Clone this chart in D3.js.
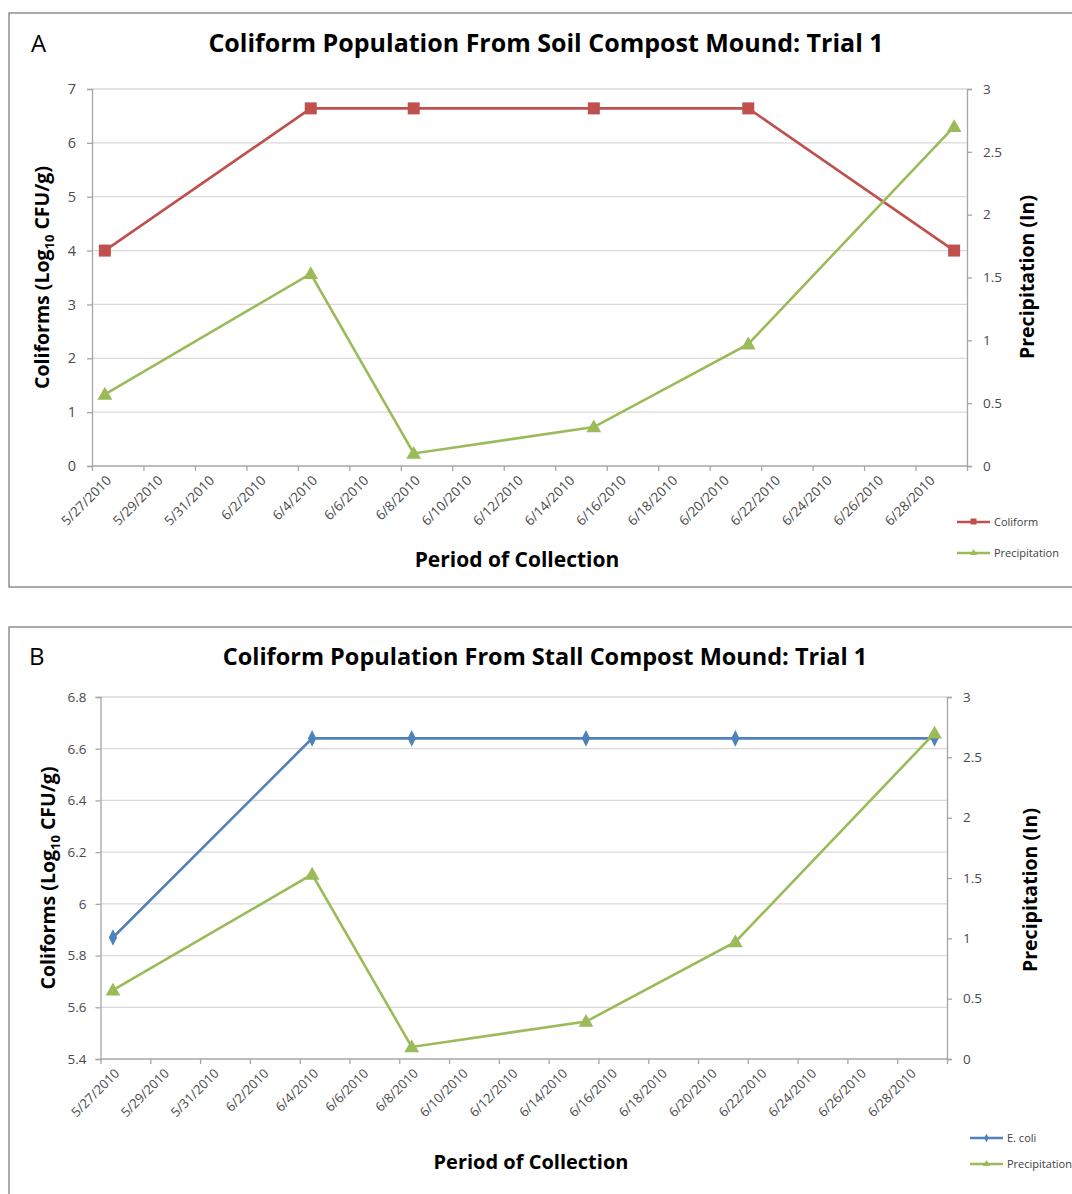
<!DOCTYPE html>
<html>
<head>
<meta charset="utf-8">
<script src="https://cdn.jsdelivr.net/npm/d3@7"></script>
<style>
  html, body { margin: 0; padding: 0; background: #fff; }
  svg { display: block; font-family: "Open Sans", Lato, "Liberation Sans", sans-serif; }
</style>
</head>
<body>
<svg id="chart" width="1072" height="1194"></svg>
<script>
// Collection dates (shared by both mounds)
const collectionDates = ["2010-05-27", "2010-06-04", "2010-06-08", "2010-06-15", "2010-06-21", "2010-06-29"];
// Soil compost mound coliforms (log10 CFU/g)
const soilColiform = [4.0, 6.64, 6.64, 6.64, 6.64, 4.0];
// Stall compost mound E. coli (log10 CFU/g)
const stallEcoli = [5.87, 6.64, 6.64, 6.64, 6.64, 6.64];
// Precipitation (inches)
const precipitation = [0.57, 1.53, 0.10, 0.31, 0.97, 2.70];
// Axis ticks
const soilLeftTicks = [0, 1, 2, 3, 4, 5, 6, 7];
const stallLeftTicks = [5.4, 5.6, 5.8, 6.0, 6.2, 6.4, 6.6, 6.8];
const precipTicks = [0, 0.5, 1, 1.5, 2, 2.5, 3];
const dateTicks = ["2010-05-27", "2010-05-29", "2010-05-31", "2010-06-02", "2010-06-04", "2010-06-06",
  "2010-06-08", "2010-06-10", "2010-06-12", "2010-06-14", "2010-06-16", "2010-06-18", "2010-06-20",
  "2010-06-22", "2010-06-24", "2010-06-26", "2010-06-28"];
const axisStart = "2010-05-27";
const axisEnd = "2010-06-30";

const svg = d3.select("#chart");
const parse = d3.utcParse("%Y-%m-%d");
const fmtDate = d3.utcFormat("%-m/%-d/%Y");
const DAY = 864e5;

const RED = "#C0504D", GREEN = "#9BBB59", BLUE = "#4F81BD";
const GRID = "#D9D9D9", AXIS = "#A6A6A6", TICKTXT = "#4A4A4A";

function panel(cfg) {
  const g = svg.append("g");
  // frame
  g.append("rect").attr("x", cfg.frame[0]).attr("y", cfg.frame[1])
    .attr("width", cfg.frame[2]).attr("height", cfg.frame[3])
    .attr("fill", "none").attr("stroke", "#7F7F7F").attr("stroke-width", 1.3);

  g.append("text").attr("x", cfg.letterX).attr("y", cfg.titleY)
    .attr("font-size", 24).attr("fill", "#000").text(cfg.letter);
  g.append("text").attr("x", cfg.titleX).attr("y", cfg.titleY)
    .attr("text-anchor", "middle").attr("font-size", cfg.titleSize).attr("font-weight", "bold")
    .attr("fill", "#000").text(cfg.title);

  const p = cfg.plot;
  const x = d3.scaleUtc().domain([parse(axisStart), parse(axisEnd)]).range([p.left, p.right]);
  const yL = d3.scaleLinear().domain(cfg.leftDomain).range([p.bottom, p.top]);
  const yR = d3.scaleLinear().domain([0, 3]).range([p.bottom, p.top]);

  // horizontal gridlines
  g.append("g").selectAll("line").data(cfg.leftTicks.slice(1)).join("line")
    .attr("x1", p.left).attr("x2", p.right)
    .attr("y1", d => yL(d)).attr("y2", d => yL(d))
    .attr("stroke", GRID).attr("stroke-width", 1.3);

  // left axis
  const gl = g.append("g").attr("transform", `translate(${p.left},0)`)
    .call(d3.axisLeft(yL).tickValues(cfg.leftTicks).tickSize(5).tickPadding(cfg.leftPad)
      .tickFormat(cfg.leftFormat));
  // right axis
  const gr = g.append("g").attr("transform", `translate(${p.right},0)`)
    .call(d3.axisRight(yR).tickValues(precipTicks).tickSize(5).tickPadding(11)
      .tickFormat(d => d3.format("")(d)));
  // bottom axis: tick marks at day boundaries, every two days
  const tickDates = dateTicks.map(parse);
  const gb = g.append("g").attr("transform", `translate(0,${p.bottom})`)
    .call(d3.axisBottom(x).tickValues(tickDates.concat([parse(axisEnd)])).tickSize(5).tickFormat(""));
  [gl, gr, gb].forEach(a => {
    a.select(".domain").attr("stroke", AXIS).attr("stroke-width", 1.3);
    a.selectAll(".tick line").attr("stroke", AXIS).attr("stroke-width", 1.3);
    a.selectAll(".tick text").attr("fill", TICKTXT).attr("font-size", 13.5)
      .attr("font-family", "'Open Sans', Lato, sans-serif");
  });
  gl.selectAll(".tick text").attr("font-size", cfg.leftFont);
  gb.select(".domain").attr("d", `M${p.left},0H${p.right}`);

  // date labels, centred on their day slot
  g.append("g").selectAll("text").data(tickDates).join("text")
    .attr("transform", d => `translate(${x(new Date(+d + DAY / 2)) + 4},${p.bottom + 12}) rotate(-45)`)
    .attr("text-anchor", "end").attr("dy", "0.35em")
    .attr("font-size", cfg.dateFont).attr("fill", TICKTXT).text(fmtDate);

  // axis titles
  const lt = g.append("text")
    .attr("transform", `translate(${cfg.leftTitleX},${(p.top + p.bottom) / 2}) rotate(-90)`)
    .attr("text-anchor", "middle").attr("font-size", 19.5).attr("font-weight", "bold").attr("fill", "#000");
  lt.append("tspan").text("Coliforms (Log");
  lt.append("tspan").attr("font-size", 13).attr("dy", 5).text("10");
  lt.append("tspan").attr("dy", -5).text(" CFU/g)");

  g.append("text")
    .attr("transform", `translate(${cfg.rightTitleX},${cfg.rightTitleY}) rotate(-90)`)
    .attr("text-anchor", "middle").attr("font-size", 19.5).attr("font-weight", "bold").attr("fill", "#000")
    .text("Precipitation (In)");
  g.append("text").attr("x", cfg.xTitleX).attr("y", cfg.xTitleY)
    .attr("text-anchor", "middle").attr("font-size", cfg.xTitleSize).attr("font-weight", "bold").attr("fill", "#000")
    .text("Period of Collection");

  const xd = d => x(new Date(+parse(d) + DAY / 2));
  const rows = (vals) => collectionDates.map((d, i) => ({ d, v: vals[i] }));

  const tri = d3.symbol().type(d3.symbolTriangle).size(95);

  // main series
  const mainRows = rows(cfg.main);
  g.append("path").datum(mainRows)
    .attr("d", d3.line().x(r => xd(r.d)).y(r => yL(r.v)))
    .attr("fill", "none").attr("stroke", cfg.mainColor).attr("stroke-width", 2.6);
  // precipitation series
  const precRows = rows(precipitation);
  g.append("path").datum(precRows)
    .attr("d", d3.line().x(r => xd(r.d)).y(r => yR(r.v)))
    .attr("fill", "none").attr("stroke", GREEN).attr("stroke-width", 2.6);

  // markers
  if (cfg.marker === "square") {
    g.append("g").selectAll("rect").data(mainRows).join("rect")
      .attr("x", r => xd(r.d) - 6).attr("y", r => yL(r.v) - 6)
      .attr("width", 12).attr("height", 12).attr("fill", cfg.mainColor);
  } else {
    g.append("g").selectAll("path").data(mainRows).join("path")
      .attr("d", d3.symbol().type(d3.symbolDiamond).size(60)())
      .attr("transform", r => `translate(${xd(r.d)},${yL(r.v)}) scale(1,1.15)`)
      .attr("fill", cfg.mainColor);
  }
  g.append("g").selectAll("path").data(precRows).join("path")
    .attr("d", tri())
    .attr("transform", r => `translate(${xd(r.d)},${yR(r.v) + 1})`)
    .attr("fill", GREEN);

  // legend
  const lg = g.append("g");
  cfg.legend.forEach((it, i) => {
    const ly = cfg.legendY + i * cfg.legendGap;
    lg.append("line").attr("x1", cfg.legendX).attr("x2", cfg.legendX + 33)
      .attr("y1", ly).attr("y2", ly).attr("stroke", it.color).attr("stroke-width", 2.6);
    if (it.marker === "square") {
      lg.append("rect").attr("x", cfg.legendX + 13.5).attr("y", ly - 3.5).attr("width", 6).attr("height", 6).attr("fill", it.color);
    } else if (it.marker === "diamond") {
      lg.append("path").attr("d", d3.symbol().type(d3.symbolDiamond).size(20)())
        .attr("transform", `translate(${cfg.legendX + 16.5},${ly})`).attr("fill", it.color);
    } else {
      lg.append("path").attr("d", d3.symbol().type(d3.symbolTriangle).size(22)())
        .attr("transform", `translate(${cfg.legendX + 16.5},${ly})`).attr("fill", it.color);
    }
    lg.append("text").attr("x", cfg.legendX + 37).attr("y", ly).attr("dy", "0.35em")
      .attr("font-size", 11).attr("fill", "#404040").text(it.label);
  });
}

panel({
  frame: [9, 13, 1075, 574],
  letter: "A", letterX: 31, title: "Coliform Population From Soil Compost Mound: Trial 1",
  titleX: 546, titleY: 52, titleSize: 25,
  plot: { left: 92, right: 967, top: 89, bottom: 466 },
  leftDomain: [0, 7], leftTicks: soilLeftTicks, leftPad: 11, leftFont: 14.5, dateFont: 13.5,
  leftFormat: d => d3.format("")(d),
  leftTitleX: 49, rightTitleX: 1034, rightTitleY: 277,
  xTitleX: 517, xTitleY: 567, xTitleSize: 21,
  main: soilColiform, mainColor: RED, marker: "square",
  legend: [{ label: "Coliform", color: RED, marker: "square" },
           { label: "Precipitation", color: GREEN, marker: "triangle" }],
  legendX: 957, legendY: 522, legendGap: 31
});

panel({
  frame: [9, 627, 1075, 580],
  letter: "B", letterX: 29, title: "Coliform Population From Stall Compost Mound: Trial 1",
  titleX: 545, titleY: 665, titleSize: 23.5,
  plot: { left: 100.5, right: 947, top: 697, bottom: 1059 },
  leftDomain: [5.4, 6.8], leftTicks: stallLeftTicks, leftPad: 9, leftFont: 13.5, dateFont: 13,
  leftFormat: d => d3.format("")(+d.toFixed(1)),
  leftTitleX: 55, rightTitleX: 1037, rightTitleY: 890,
  xTitleX: 531, xTitleY: 1169, xTitleSize: 20,
  main: stallEcoli, mainColor: BLUE, marker: "diamond",
  legend: [{ label: "E. coli", color: BLUE, marker: "diamond" },
           { label: "Precipitation", color: GREEN, marker: "triangle" }],
  legendX: 970, legendY: 1138, legendGap: 26
});
</script>
</body>
</html>
